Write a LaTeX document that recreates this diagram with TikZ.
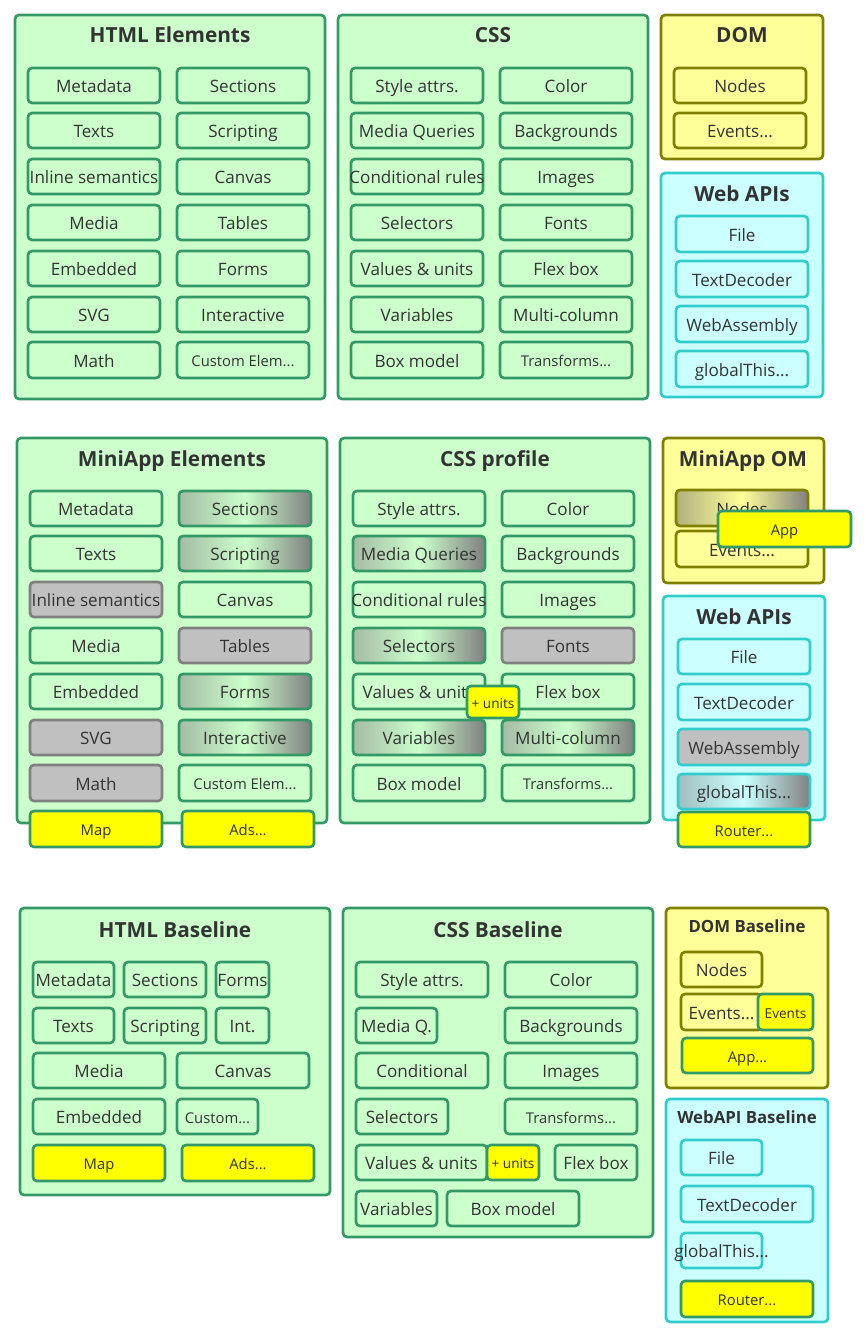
\documentclass[tikz,border=0pt]{standalone}
\usepackage{fontspec}
\setmainfont{Open Sans}
\definecolor{gFill}{HTML}{CCFFCC}
\definecolor{gLine}{HTML}{339966}
\definecolor{yFill}{HTML}{FFFF99}
\definecolor{yLine}{HTML}{808000}
\definecolor{cFill}{HTML}{CCFFFF}
\definecolor{cLine}{HTML}{33CCCC}
\definecolor{hFill}{HTML}{FFFF00}
\definecolor{grFill}{HTML}{C0C0C0}
\definecolor{grLine}{HTML}{808080}
\definecolor{txt}{HTML}{333333}
\definecolor{gradGL}{HTML}{A5BBA5}
\definecolor{gradYL}{HTML}{B0B080}
\definecolor{gradCL}{HTML}{A0BEBE}
\definecolor{gradR}{HTML}{808080}
\tikzset{
  box/.style={rounded corners=3pt, line width=2pt, inner sep=0pt, outer sep=0pt,
    text=txt, font=\fontsize{12.8}{15}\selectfont, text height=10.8pt, text depth=0pt},
  gb/.style={box, draw=gLine, fill=gFill},
  yb/.style={box, draw=yLine, fill=yFill},
  cb/.style={box, draw=cLine, fill=cFill},
  hb/.style={box, draw=gLine, fill=hFill},
  grb/.style={box, draw=grLine, fill=grFill},
  grcb/.style={box, draw=cLine, fill=grFill},
  gradg/.style={box, draw=gLine, left color=gradGL, right color=gradR, middle color=gFill},
  grady/.style={box, draw=yLine, left color=gradYL, right color=gradR, middle color=yFill},
  gradc/.style={box, draw=cLine, left color=gradCL, right color=gradR, middle color=cFill},
  small/.style={font=\fontsize{11.1}{13}\selectfont, text height=10.2pt},
  tiny/.style={font=\fontsize{10.2}{12}\selectfont, text height=9.7pt},
  ttl/.style={anchor=base, text=txt, inner sep=0pt, font=\fontsize{15.6}{18}\selectfont\bfseries},
  ttls/.style={anchor=base, text=txt, inner sep=0pt, font=\fontsize{12.6}{15}\selectfont\bfseries},
}
\newcommand\bx[7]{\node[#1, minimum width={(#4-#2)*0.75pt}, minimum height={(#5-#3)*0.75pt}] (#6) at ({(#2+#4)/2},{(#3+#5)/2}) {\makebox[0pt]{#7}};}
\begin{document}
\begin{tikzpicture}[x=0.75pt,y=-0.75pt]
\useasboundingbox (0,0) rectangle (866,1337);
% ================= TOP ROW =================
\bx{gb}{15}{15}{325}{399}{gHE}{}
\node[ttl] (tHE) at (170,43) {HTML Elements};
\bx{gb}{28}{68}{160}{103}{he1}{Metadata}
\bx{gb}{28}{113}{160}{148}{he2}{Texts}
\bx{gb}{28}{159}{160}{194}{he3}{Inline semantics}
\bx{gb}{28}{205}{160}{240}{he4}{Media}
\bx{gb}{28}{251}{160}{286}{he5}{Embedded}
\bx{gb}{28}{297}{160}{332}{he6}{SVG}
\bx{gb}{28}{342}{160}{378}{he7}{Math}
\bx{gb}{177}{68}{309}{103}{he8}{Sections}
\bx{gb}{177}{113}{309}{148}{he9}{Scripting}
\bx{gb}{177}{159}{309}{194}{he10}{Canvas}
\bx{gb}{177}{205}{309}{240}{he11}{Tables}
\bx{gb}{177}{251}{309}{286}{he12}{Forms}
\bx{gb}{177}{297}{309}{332}{he13}{Interactive}
\bx{gb,small}{177}{342}{309}{378}{he14}{Custom Elem...}

\bx{gb}{338}{15}{648}{399}{gCSS}{}
\node[ttl] (tCSS) at (493,43) {CSS};
\bx{gb}{351}{68}{483}{103}{cs1}{Style attrs.}
\bx{gb}{351}{113}{483}{148}{cs2}{Media Queries}
\bx{gb}{351}{159}{483}{194}{cs3}{Conditional rules}
\bx{gb}{351}{205}{483}{240}{cs4}{Selectors}
\bx{gb}{351}{251}{483}{286}{cs5}{Values \& units}
\bx{gb}{351}{297}{483}{332}{cs6}{Variables}
\bx{gb}{351}{342}{483}{378}{cs7}{Box model}
\bx{gb}{500}{68}{632}{103}{cs8}{Color}
\bx{gb}{500}{113}{632}{148}{cs9}{Backgrounds}
\bx{gb}{500}{159}{632}{194}{cs10}{Images}
\bx{gb}{500}{205}{632}{240}{cs11}{Fonts}
\bx{gb}{500}{251}{632}{286}{cs12}{Flex box}
\bx{gb}{500}{297}{632}{332}{cs13}{Multi-column}
\bx{gb,small}{500}{342}{632}{378}{cs14}{Transforms...}

\bx{yb}{661}{15}{823}{159}{gDOM}{}
\node[ttl] (tDOM) at (742,43) {DOM};
\bx{yb}{674}{68}{806}{103}{do1}{Nodes}
\bx{yb}{674}{113}{806}{148}{do2}{Events...}

\bx{cb}{661}{173}{823}{397}{gWA}{}
\node[ttl] (tWA) at (742,202) {Web APIs};
\bx{cb}{676}{216}{808}{252}{wa1}{File}
\bx{cb}{676}{261}{808}{297}{wa2}{TextDecoder}
\bx{cb}{676}{306}{808}{342}{wa3}{WebAssembly}
\bx{cb}{676}{351}{808}{387}{wa4}{globalThis...}

% ================= MIDDLE ROW =================
\bx{gb}{17}{438}{327}{823}{gME}{}
\node[ttl] (tME) at (172,466) {MiniApp Elements};
\bx{gb}{30}{491}{162}{526}{me1}{Metadata}
\bx{gb}{30}{536}{162}{571}{me2}{Texts}
\bx{grb}{30}{582}{162}{617}{me3}{Inline semantics}
\bx{gb}{30}{628}{162}{663}{me4}{Media}
\bx{gb}{30}{674}{162}{709}{me5}{Embedded}
\bx{grb}{30}{720}{162}{755}{me6}{SVG}
\bx{grb}{30}{765}{162}{801}{me7}{Math}
\bx{gradg}{179}{491}{311}{526}{me8}{Sections}
\bx{gradg}{179}{536}{311}{571}{me9}{Scripting}
\bx{gb}{179}{582}{311}{617}{me10}{Canvas}
\bx{grb}{179}{628}{311}{663}{me11}{Tables}
\bx{gradg}{179}{674}{311}{709}{me12}{Forms}
\bx{gradg}{179}{720}{311}{755}{me13}{Interactive}
\bx{gb,small}{179}{765}{311}{801}{me14}{Custom Elem...}
\bx{hb,small}{30}{811}{162}{847}{me15}{Map}
\bx{hb,small}{182}{811}{314}{847}{me16}{Ads...}

\bx{gb}{340}{438}{650}{823}{gCP}{}
\node[ttl] (tCP) at (495,466) {CSS profile};
\bx{gb}{353}{491}{485}{526}{cp1}{Style attrs.}
\bx{gradg}{353}{536}{485}{571}{cp2}{Media Queries}
\bx{gb}{353}{582}{485}{617}{cp3}{Conditional rules}
\bx{gradg}{353}{628}{485}{663}{cp4}{Selectors}
\bx{gb}{353}{674}{485}{709}{cp5}{Values \& units}
\bx{gradg}{353}{720}{485}{755}{cp6}{Variables}
\bx{gb}{353}{765}{485}{801}{cp7}{Box model}
\bx{gb}{502}{491}{634}{526}{cp8}{Color}
\bx{gb}{502}{536}{634}{571}{cp9}{Backgrounds}
\bx{gb}{502}{582}{634}{617}{cp10}{Images}
\bx{grb}{502}{628}{634}{663}{cp11}{Fonts}
\bx{gb}{502}{674}{634}{709}{cp12}{Flex box}
\bx{gradg}{502}{720}{634}{755}{cp13}{Multi-column}
\bx{gb,small}{502}{765}{634}{801}{cp14}{Transforms...}
\bx{hb,tiny}{467}{686}{519}{718}{cp15}{+ units}

\bx{yb}{663}{438}{824}{583}{gMO}{}
\node[ttl] (tMO) at (743,466) {MiniApp OM};
\bx{grady}{676}{490}{808}{526}{mo1}{Nodes}
\bx{yb}{676}{531}{808}{567}{mo2}{Events...}
\bx{hb,small}{718}{511}{851}{547}{mo3}{App}

\bx{cb}{663}{596}{825}{820}{gWB}{}
\node[ttl] (tWB) at (744,624) {Web APIs};
\bx{cb}{678}{639}{810}{674}{wb1}{File}
\bx{cb}{678}{684}{810}{720}{wb2}{TextDecoder}
\bx{grcb}{678}{729}{810}{765}{wb3}{WebAssembly}
\bx{gradc}{678}{774}{810}{809}{wb4}{globalThis...}
\bx{hb,small}{678}{812}{810}{847}{wb5}{Router...}

% ================= BOTTOM ROW =================
\bx{gb}{20}{908}{330}{1195}{gHB}{}
\node[ttl] (tHB) at (175,937) {HTML Baseline};
\bx{gb}{33}{962}{114}{997}{hb1}{Metadata}
\bx{gb}{124}{962}{206}{997}{hb2}{Sections}
\bx{gb}{216}{962}{269}{997}{hb3}{Forms}
\bx{gb}{33}{1008}{114}{1043}{hb4}{Texts}
\bx{gb}{124}{1008}{206}{1043}{hb5}{Scripting}
\bx{gb}{216}{1008}{269}{1043}{hb6}{Int.}
\bx{gb}{33}{1053}{165}{1088}{hb7}{Media}
\bx{gb}{177}{1053}{309}{1088}{hb8}{Canvas}
\bx{gb}{33}{1099}{165}{1134}{hb9}{Embedded}
\bx{gb,small}{177}{1099}{258}{1134}{hb10}{Custom...}
\bx{hb,small}{33}{1145}{165}{1181}{hb11}{Map}
\bx{hb,small}{182}{1145}{314}{1181}{hb12}{Ads...}

\bx{gb}{343}{908}{653}{1237}{gCB}{}
\node[ttl] (tCB) at (498,937) {CSS Baseline};
\bx{gb}{356}{962}{488}{997}{cb1}{Style attrs.}
\bx{gb}{505}{962}{637}{997}{cb2}{Color}
\bx{gb}{356}{1008}{437}{1043}{cb3}{Media Q.}
\bx{gb}{505}{1008}{637}{1043}{cb4}{Backgrounds}
\bx{gb}{356}{1053}{488}{1088}{cb5}{Conditional}
\bx{gb}{505}{1053}{637}{1088}{cb6}{Images}
\bx{gb}{356}{1099}{448}{1134}{cb7}{Selectors}
\bx{gb,small}{505}{1099}{637}{1134}{cb8}{Transforms...}
\bx{gb}{356}{1145}{487}{1180}{cb9}{Values \& units}
\bx{hb,tiny}{487}{1145}{539}{1180}{cb10}{+ units}
\bx{gb}{555}{1145}{637}{1180}{cb11}{Flex box}
\bx{gb}{356}{1191}{437}{1226}{cb12}{Variables}
\bx{gb}{447}{1191}{579}{1226}{cb13}{Box model}

\bx{yb}{666}{908}{828}{1088}{gDB}{}
\node[ttls] (tDB) at (747,932) {DOM Baseline};
\bx{yb}{681}{952}{762}{987}{db1}{Nodes}
\bx{yb}{681}{994}{762}{1030}{db2}{Events...}
\bx{hb,tiny}{758}{994}{813}{1030}{db3}{Events}
\bx{hb,small}{682}{1038}{813}{1073}{db4}{App...}

\bx{cb}{666}{1099}{828}{1322}{gWD}{}
\node[ttls] (tWD) at (747,1123) {WebAPI Baseline};
\bx{cb}{681}{1140}{762}{1175}{wd1}{File}
\bx{cb}{681}{1186}{813}{1222}{wd2}{TextDecoder}
\bx{cb}{681}{1233}{762}{1268}{wd3}{globalThis...}
\bx{hb,small}{681}{1281}{813}{1317}{wd4}{Router...}
\end{tikzpicture}
\end{document}
